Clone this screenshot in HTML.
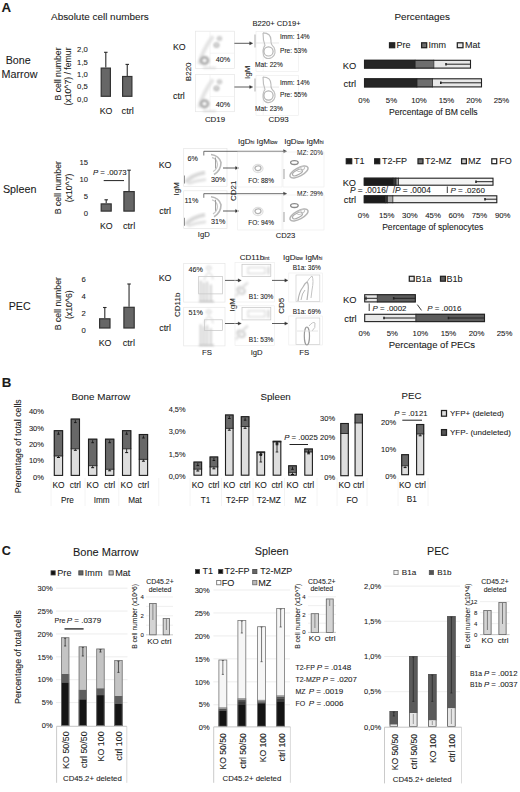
<!DOCTYPE html>
<html><head><meta charset="utf-8"><title>Figure</title>
<style>
html,body{margin:0;padding:0;background:#fff;}
body{width:520px;height:792px;overflow:hidden;}
svg{display:block;font-family:"Liberation Sans",sans-serif;}
text{fill:#1a1a1a;stroke:#1a1a1a;stroke-width:0.08px;}
</style></head>
<body>
<svg width="520" height="792" viewBox="0 0 520 792">
<defs><filter id="bl6" x="-20%" y="-20%" width="140%" height="140%"><feGaussianBlur stdDeviation="0.6"/></filter><filter id="bl7" x="-20%" y="-20%" width="140%" height="140%"><feGaussianBlur stdDeviation="0.7"/></filter><filter id="bl8" x="-20%" y="-20%" width="140%" height="140%"><feGaussianBlur stdDeviation="0.8"/></filter><filter id="bl9" x="-20%" y="-20%" width="140%" height="140%"><feGaussianBlur stdDeviation="0.9"/></filter><filter id="bl10" x="-20%" y="-20%" width="140%" height="140%"><feGaussianBlur stdDeviation="1.0"/></filter></defs>
<rect width="520" height="792" fill="#fff"/>
<text x="1.6" y="12.4" font-size="13.3" font-weight="bold" stroke="#1a1a1a" stroke-width="0.5">A</text>
<text x="51" y="19.6" font-size="9.95">Absolute cell numbers</text>
<text x="5.7" y="64.3" font-size="10.7">Bone</text>
<text x="1.6" y="77.7" font-size="10.75">Marrow</text>
<text x="19.7" y="193" font-size="10.75" text-anchor="middle">Spleen</text>
<text x="19.7" y="310.4" font-size="10.65" text-anchor="middle">PEC</text>
<text x="87.8" y="52.199999999999996" font-size="7.7" text-anchor="end">2,0</text>
<text x="87.8" y="64.55" font-size="7.7" text-anchor="end">1,5</text>
<text x="87.8" y="76.89999999999999" font-size="7.7" text-anchor="end">1,0</text>
<text x="87.8" y="89.24999999999999" font-size="7.7" text-anchor="end">0,5</text>
<text x="87.8" y="101.6" font-size="7.7" text-anchor="end">0,0</text>
<text transform="translate(61.3,74) rotate(-90)" font-size="8.7" text-anchor="middle">B cell number</text>
<text transform="translate(71.2,76.5) rotate(-90)" font-size="8.7" text-anchor="middle">(x10^7) / femur</text>
<line x1="105.80" y1="52.30" x2="105.80" y2="67.50" stroke="#2a2a2a" stroke-width="1.1"/>
<line x1="104.05" y1="52.30" x2="107.55" y2="52.30" stroke="#2a2a2a" stroke-width="1.1"/>
<rect x="101.20" y="68.10" width="9.20" height="28.20" fill="#666" stroke="#333" stroke-width="1.2"/>
<line x1="127.25" y1="64.40" x2="127.25" y2="75.90" stroke="#2a2a2a" stroke-width="1.1"/>
<line x1="125.50" y1="64.40" x2="129.00" y2="64.40" stroke="#2a2a2a" stroke-width="1.1"/>
<rect x="122.60" y="76.50" width="9.30" height="19.80" fill="#666" stroke="#333" stroke-width="1.2"/>
<text x="106.1" y="114.2" font-size="8.8" text-anchor="middle">KO</text>
<text x="127.7" y="114.2" font-size="9.3" text-anchor="middle">ctrl</text>
<text x="173" y="49.6" font-size="8.8">KO</text>
<text x="173" y="98.7" font-size="8.9">ctrl</text>
<rect x="195.50" y="31.20" width="38.90" height="37.20" fill="none" stroke="#e6e6e6" stroke-width="0.7"/>
<line x1="210.00" y1="31.20" x2="210.00" y2="68.40" stroke="#efefef" stroke-width="0.6"/>
<line x1="210.00" y1="53.20" x2="234.40" y2="53.20" stroke="#efefef" stroke-width="0.6"/>
<g filter="url(#bl10)">
<path d="M199,64.2 Q203,49.2 213,36.2" stroke="#e4e4e4" stroke-width="4" fill="none"/>
<ellipse cx="204.5" cy="60.5" rx="3.6" ry="3.3" stroke="#a9a9a9" stroke-width="2.6" fill="none"/>
<ellipse cx="216.5" cy="45.0" rx="2.1" ry="1.9" stroke="#a2a2a2" stroke-width="1.4" fill="none"/>
<ellipse cx="219.5" cy="38.5" rx="1.9" ry="1.7" stroke="#b0b0b0" stroke-width="1.3" fill="none"/>
<line x1="203.00" y1="67.80" x2="216.00" y2="67.80" stroke="#cfcfcf" stroke-width="1.2"/>
</g>
<rect x="195.50" y="74.50" width="38.90" height="37.20" fill="none" stroke="#e6e6e6" stroke-width="0.7"/>
<line x1="210.00" y1="74.50" x2="210.00" y2="111.70" stroke="#efefef" stroke-width="0.6"/>
<line x1="210.00" y1="96.50" x2="234.40" y2="96.50" stroke="#efefef" stroke-width="0.6"/>
<g filter="url(#bl10)">
<path d="M199,107.5 Q203,92.5 213,79.5" stroke="#e4e4e4" stroke-width="4" fill="none"/>
<ellipse cx="204.5" cy="103.8" rx="3.6" ry="3.3" stroke="#a9a9a9" stroke-width="2.6" fill="none"/>
<ellipse cx="216.5" cy="88.3" rx="2.1" ry="1.9" stroke="#a2a2a2" stroke-width="1.4" fill="none"/>
<ellipse cx="219.5" cy="81.8" rx="1.9" ry="1.7" stroke="#b0b0b0" stroke-width="1.3" fill="none"/>
<line x1="203.00" y1="111.10" x2="216.00" y2="111.10" stroke="#cfcfcf" stroke-width="1.2"/>
</g>
<text x="215.7" y="62.4" font-size="7.2">40%</text>
<text x="215.7" y="106.5" font-size="7.2">40%</text>
<text transform="translate(190.5,71.8) rotate(-90)" font-size="8" text-anchor="middle">B220</text>
<text x="215" y="122.3" font-size="7.9" text-anchor="middle">CD19</text>
<line x1="234.40" y1="43.30" x2="250.30" y2="43.30" stroke="#333" stroke-width="0.8"/>
<path d="M249.60000000000002,41.699999999999996 L252.8,43.3 L249.60000000000002,44.9 Z" stroke="#333" stroke-width="0.3" fill="#333"/>
<line x1="234.40" y1="87.00" x2="250.30" y2="87.00" stroke="#333" stroke-width="0.8"/>
<path d="M249.60000000000002,85.4 L252.8,87 L249.60000000000002,88.6 Z" stroke="#333" stroke-width="0.3" fill="#333"/>
<text transform="translate(250,72.3) rotate(-90)" font-size="8" text-anchor="middle">IgM</text>
<text x="252.5" y="26.2" font-size="7.6">B220+ CD19+</text>
<rect x="256.00" y="31.40" width="42.50" height="40.00" fill="none" stroke="#ececec" stroke-width="0.6"/>
<line x1="256.00" y1="43.00" x2="279.00" y2="43.00" stroke="#dedede" stroke-width="0.7"/>
<line x1="263.20" y1="31.40" x2="263.20" y2="71.40" stroke="#f0f0f0" stroke-width="0.6"/>
<g filter="url(#bl7)">
<line x1="255.00" y1="34.40" x2="255.00" y2="47.40" stroke="#cacaca" stroke-width="1.5"/>
<path d="M263,32.9 Q271,32.9 271,40.4 Q270.5,44.4 274,47.4 Q277,53.4 272,57.4 Q266,60.4 263.5,55.4 Q262,49.4 265,45.4 Q263,40.4 263,32.9" stroke="#bdbdbd" stroke-width="1.1" fill="none"/>
<ellipse cx="268.5" cy="51.4" rx="4.6" ry="4.6" stroke="#b2b2b2" stroke-width="1.2" fill="none"/>
</g>
<rect x="256.00" y="75.50" width="42.50" height="40.00" fill="none" stroke="#ececec" stroke-width="0.6"/>
<line x1="256.00" y1="87.10" x2="279.00" y2="87.10" stroke="#dedede" stroke-width="0.7"/>
<line x1="263.20" y1="75.50" x2="263.20" y2="115.50" stroke="#f0f0f0" stroke-width="0.6"/>
<g filter="url(#bl7)">
<line x1="255.00" y1="78.50" x2="255.00" y2="91.50" stroke="#cacaca" stroke-width="1.5"/>
<path d="M263,77.0 Q271,77.0 271,84.5 Q270.5,88.5 274,91.5 Q277,97.5 272,101.5 Q266,104.5 263.5,99.5 Q262,93.5 265,89.5 Q263,84.5 263,77.0" stroke="#bdbdbd" stroke-width="1.1" fill="none"/>
<ellipse cx="268.5" cy="95.5" rx="4.6" ry="4.6" stroke="#b2b2b2" stroke-width="1.2" fill="none"/>
</g>
<text x="280" y="39.2" font-size="6.6">Imm: 14%</text>
<text x="280" y="85" font-size="6.6">Imm: 14%</text>
<text x="280" y="53" font-size="6.6">Pre: 53%</text>
<text x="280" y="97.2" font-size="6.6">Pre: 55%</text>
<text x="255" y="67.2" font-size="6.6">Mat: 22%</text>
<text x="255" y="111" font-size="6.6">Mat: 23%</text>
<text x="278.6" y="122.3" font-size="7.9" text-anchor="middle">CD93</text>
<text x="394.4" y="20" font-size="9.9">Percentages</text>
<rect x="389.50" y="42.80" width="5.20" height="4.90" fill="#262626" stroke="#222" stroke-width="1.25"/>
<text x="396.5" y="48.3" font-size="9">Pre</text>
<rect x="421.60" y="42.80" width="5.10" height="4.90" fill="#6e6e6e" stroke="#222" stroke-width="1.25"/>
<text x="428.5" y="48.3" font-size="9">Imm</text>
<rect x="457.30" y="42.80" width="5.70" height="4.90" fill="#e8e8e8" stroke="#222" stroke-width="1.25"/>
<text x="465" y="48.3" font-size="9">Mat</text>
<text x="342.7" y="68.6" font-size="9.3">KO</text>
<text x="343.5" y="87.2" font-size="9.5">ctrl</text>
<rect x="364.00" y="59.80" width="51.30" height="8.80" fill="#262626"/>
<rect x="415.30" y="59.80" width="18.50" height="8.80" fill="#6e6e6e"/>
<rect x="433.80" y="59.80" width="37.20" height="8.80" fill="#e8e8e8"/>
<rect x="364.50" y="60.30" width="106.00" height="7.80" fill="none" stroke="#222" stroke-width="1.1"/>
<line x1="415.30" y1="59.80" x2="415.30" y2="68.60" stroke="#222" stroke-width="0.8"/>
<line x1="433.80" y1="59.80" x2="433.80" y2="68.60" stroke="#222" stroke-width="0.8"/>
<line x1="446.00" y1="64.20" x2="470.50" y2="64.20" stroke="#222" stroke-width="1"/>
<line x1="446.00" y1="62.95" x2="446.00" y2="65.45" stroke="#222" stroke-width="1.6"/>
<rect x="364.00" y="78.30" width="53.00" height="9.10" fill="#262626"/>
<rect x="417.00" y="78.30" width="15.50" height="9.10" fill="#6e6e6e"/>
<rect x="432.50" y="78.30" width="49.50" height="9.10" fill="#e8e8e8"/>
<rect x="364.50" y="78.80" width="117.00" height="8.10" fill="none" stroke="#222" stroke-width="1.1"/>
<line x1="417.00" y1="78.30" x2="417.00" y2="87.40" stroke="#222" stroke-width="0.8"/>
<line x1="432.50" y1="78.30" x2="432.50" y2="87.40" stroke="#222" stroke-width="0.8"/>
<line x1="440.80" y1="82.80" x2="481.50" y2="82.80" stroke="#222" stroke-width="1"/>
<line x1="440.80" y1="81.55" x2="440.80" y2="84.05" stroke="#222" stroke-width="1.6"/>
<text x="364.0" y="102.8" font-size="7.8" text-anchor="middle">0%</text>
<text x="391.5" y="102.8" font-size="7.8" text-anchor="middle">5%</text>
<text x="419.0" y="102.8" font-size="7.8" text-anchor="middle">10%</text>
<text x="446.5" y="102.8" font-size="7.8" text-anchor="middle">15%</text>
<text x="474.0" y="102.8" font-size="7.8" text-anchor="middle">20%</text>
<text x="501.5" y="102.8" font-size="7.8" text-anchor="middle">25%</text>
<text x="433.3" y="115.4" font-size="8.65" text-anchor="middle">Percentage of BM cells</text>
<text x="88" y="164.70000000000002" font-size="7.7" text-anchor="end">15</text>
<text x="88" y="181.75000000000003" font-size="7.7" text-anchor="end">10</text>
<text x="88" y="198.8" font-size="7.7" text-anchor="end">5</text>
<text x="88" y="215.85000000000002" font-size="7.7" text-anchor="end">0</text>
<text transform="translate(60.5,187.7) rotate(-90)" font-size="8.7" text-anchor="middle">B cell number</text>
<text transform="translate(71.6,188) rotate(-90)" font-size="8.7" text-anchor="middle">(x10^7)</text>
<line x1="106.20" y1="199.80" x2="106.20" y2="203.30" stroke="#2a2a2a" stroke-width="1.1"/>
<line x1="104.45" y1="199.80" x2="107.95" y2="199.80" stroke="#2a2a2a" stroke-width="1.1"/>
<rect x="101.20" y="203.90" width="10.00" height="7.20" fill="#666" stroke="#333" stroke-width="1.2"/>
<line x1="129.05" y1="170.20" x2="129.05" y2="191.00" stroke="#2a2a2a" stroke-width="1.1"/>
<line x1="127.30" y1="170.20" x2="130.80" y2="170.20" stroke="#2a2a2a" stroke-width="1.1"/>
<rect x="123.90" y="191.60" width="10.30" height="19.50" fill="#666" stroke="#333" stroke-width="1.2"/>
<text x="93" y="174.8" font-size="7.8"><tspan font-style="italic">P</tspan> = .0073</text>
<line x1="103.70" y1="180.60" x2="124.00" y2="180.60" stroke="#222" stroke-width="1"/>
<text x="106.3" y="229.4" font-size="8.8" text-anchor="middle">KO</text>
<text x="129.1" y="229.4" font-size="9.2" text-anchor="middle">ctrl</text>
<text x="158.7" y="168" font-size="8.9">KO</text>
<text x="159.2" y="213.8" font-size="8.9">ctrl</text>
<rect x="183.70" y="148.50" width="43.30" height="37.80" fill="none" stroke="#e6e6e6" stroke-width="0.7"/>
<line x1="203.80" y1="155.50" x2="203.80" y2="151.30" stroke="#555" stroke-width="0.8"/>
<g filter="url(#bl10)">
<path d="M186,182.5 Q190,175.5 205,172.5" stroke="#d9d9d9" stroke-width="4" fill="none"/>
<path d="M188,183.5 Q196,180.5 206,179.5" stroke="#e2e2e2" stroke-width="3" fill="none"/>
</g>
<g filter="url(#bl6)">
<path d="M211,154.5 Q219,155.5 221,162.5 Q221,170.5 214,174.5" stroke="#b8b8b8" stroke-width="1.6" fill="none"/>
<path d="M212,157.5 Q217,158.5 217.5,164.5 Q217,169.5 213,171.5" stroke="#c8c8c8" stroke-width="1.3" fill="none"/>
<line x1="215.50" y1="157.50" x2="215.50" y2="168.50" stroke="#a0a0a0" stroke-width="1.0"/>
</g>
<line x1="184.50" y1="175.50" x2="184.50" y2="183.50" stroke="#777" stroke-width="0.8"/>
<rect x="183.70" y="190.80" width="43.30" height="37.80" fill="none" stroke="#e6e6e6" stroke-width="0.7"/>
<line x1="203.80" y1="197.80" x2="203.80" y2="193.60" stroke="#555" stroke-width="0.8"/>
<g filter="url(#bl10)">
<path d="M186,224.8 Q190,217.8 205,214.8" stroke="#d9d9d9" stroke-width="4" fill="none"/>
<path d="M188,225.8 Q196,222.8 206,221.8" stroke="#e2e2e2" stroke-width="3" fill="none"/>
</g>
<g filter="url(#bl6)">
<path d="M211,196.8 Q219,197.8 221,204.8 Q221,212.8 214,216.8" stroke="#b8b8b8" stroke-width="1.6" fill="none"/>
<path d="M212,199.8 Q217,200.8 217.5,206.8 Q217,211.8 213,213.8" stroke="#c8c8c8" stroke-width="1.3" fill="none"/>
<line x1="215.50" y1="199.80" x2="215.50" y2="210.80" stroke="#a0a0a0" stroke-width="1.0"/>
</g>
<line x1="184.50" y1="217.80" x2="184.50" y2="225.80" stroke="#777" stroke-width="0.8"/>
<line x1="203.80" y1="151.30" x2="284.00" y2="151.30" stroke="#444" stroke-width="0.8"/>
<path d="M283.5,149.6 L286.8,151.3 L283.5,153 Z" stroke="#444" stroke-width="0.3" fill="#444"/>
<line x1="203.80" y1="193.70" x2="284.00" y2="193.70" stroke="#444" stroke-width="0.8"/>
<path d="M283.5,192 L286.8,193.7 L283.5,195.4 Z" stroke="#444" stroke-width="0.3" fill="#444"/>
<text x="187.5" y="161" font-size="7.2">6%</text>
<text x="184.6" y="203.3" font-size="7.2">11%</text>
<text x="211" y="182" font-size="7.2">30%</text>
<text x="211" y="224.4" font-size="7.2">31%</text>
<line x1="223.00" y1="168.00" x2="236.20" y2="168.00" stroke="#333" stroke-width="0.8"/>
<path d="M235.5,166.4 L238.7,168 L235.5,169.6 Z" stroke="#333" stroke-width="0.3" fill="#333"/>
<line x1="223.00" y1="211.00" x2="236.20" y2="211.00" stroke="#333" stroke-width="0.8"/>
<path d="M235.5,209.4 L238.7,211 L235.5,212.6 Z" stroke="#333" stroke-width="0.3" fill="#333"/>
<text transform="translate(179,188.8) rotate(-90)" font-size="8" text-anchor="middle">IgM</text>
<text transform="translate(235.5,190.8) rotate(-90)" font-size="8" text-anchor="middle">CD21</text>
<text x="203.8" y="237" font-size="7.7" text-anchor="middle">IgD</text>
<text x="238" y="143.8" font-size="8"><tspan>IgD</tspan><tspan font-size="5.0">hi</tspan><tspan> IgM</tspan><tspan font-size="5.0">low</tspan></text>
<text x="284.2" y="143.8" font-size="8"><tspan>IgD</tspan><tspan font-size="5.0">low</tspan><tspan> IgM</tspan><tspan font-size="5.0">hi</tspan></text>
<text x="297" y="155" font-size="6.5">MZ: 20%</text>
<text x="297" y="196.3" font-size="6.5">MZ: 29%</text>
<text x="248.3" y="182.9" font-size="6.5">FO: 88%</text>
<text x="248.3" y="224.6" font-size="6.5">FO: 94%</text>
<rect x="237.70" y="152.00" width="44.30" height="35.00" fill="none" stroke="#ececec" stroke-width="0.6"/>
<g filter="url(#bl7)">
<ellipse cx="258" cy="168.2" rx="3.0" ry="2.4" stroke="#b4b4b4" stroke-width="1.3" fill="none" transform="rotate(-10 258 168.2)"/>
<ellipse cx="258" cy="168.5" rx="5.0" ry="4.0" stroke="#e0e0e0" stroke-width="1.3" fill="none"/>
</g>
<rect x="237.70" y="195.00" width="44.30" height="35.00" fill="none" stroke="#ececec" stroke-width="0.6"/>
<g filter="url(#bl7)">
<ellipse cx="258" cy="211.2" rx="3.0" ry="2.4" stroke="#b4b4b4" stroke-width="1.3" fill="none" transform="rotate(-10 258 211.2)"/>
<ellipse cx="258" cy="211.5" rx="5.0" ry="4.0" stroke="#e0e0e0" stroke-width="1.3" fill="none"/>
</g>
<rect x="283.00" y="152.00" width="41.00" height="35.00" fill="none" stroke="#ececec" stroke-width="0.6"/>
<line x1="284.00" y1="169.00" x2="284.00" y2="179.00" stroke="#999" stroke-width="0.9"/>
<g filter="url(#bl6)">
<ellipse cx="294.4" cy="162.6" rx="3.8" ry="1.9" stroke="#8a8a8a" stroke-width="1.3" fill="none"/>
<ellipse cx="299" cy="172" rx="10" ry="4.2" stroke="#b4b4b4" stroke-width="1.4" fill="none" transform="rotate(-28 299 172)"/>
<ellipse cx="297.5" cy="172.5" rx="5.5" ry="2.3" stroke="#aaaaaa" stroke-width="1.2" fill="none" transform="rotate(-28 297.5 172.5)"/>
<ellipse cx="301" cy="169" rx="4" ry="1.8" stroke="#c4c4c4" stroke-width="1.0" fill="none" transform="rotate(-28 301 169)"/>
</g>
<rect x="283.00" y="195.00" width="41.00" height="35.00" fill="none" stroke="#ececec" stroke-width="0.6"/>
<line x1="284.00" y1="212.00" x2="284.00" y2="222.00" stroke="#999" stroke-width="0.9"/>
<g filter="url(#bl6)">
<ellipse cx="294.4" cy="205.6" rx="3.8" ry="1.9" stroke="#8a8a8a" stroke-width="1.3" fill="none"/>
<ellipse cx="299" cy="215" rx="10" ry="4.2" stroke="#b4b4b4" stroke-width="1.4" fill="none" transform="rotate(-28 299 215)"/>
<ellipse cx="297.5" cy="215.5" rx="5.5" ry="2.3" stroke="#aaaaaa" stroke-width="1.2" fill="none" transform="rotate(-28 297.5 215.5)"/>
<ellipse cx="301" cy="212" rx="4" ry="1.8" stroke="#c4c4c4" stroke-width="1.0" fill="none" transform="rotate(-28 301 212)"/>
</g>
<text x="285.4" y="237.7" font-size="7.6" text-anchor="middle">CD23</text>
<rect x="346.30" y="158.80" width="5.40" height="4.90" fill="#1a1a1a" stroke="#222" stroke-width="1.25"/>
<text x="354" y="164.2" font-size="9">T1</text>
<rect x="374.70" y="158.80" width="5.00" height="4.90" fill="#1a1a1a" stroke="#222" stroke-width="1.25"/>
<text x="382" y="164.2" font-size="9">T2-FP</text>
<rect x="418.00" y="158.80" width="5.00" height="4.90" fill="#6e6e6e" stroke="#222" stroke-width="1.25"/>
<text x="425" y="164.2" font-size="9">T2-MZ</text>
<rect x="461.60" y="158.80" width="4.80" height="4.90" fill="#c8c8c8" stroke="#222" stroke-width="1.25"/>
<text x="468" y="164.2" font-size="9">MZ</text>
<rect x="491.80" y="158.80" width="4.90" height="4.90" fill="#ffffff" stroke="#222" stroke-width="1.25"/>
<text x="499.3" y="164.2" font-size="9">FO</text>
<text x="342.7" y="185.8" font-size="9.2">KO</text>
<text x="343.7" y="202.7" font-size="9.4">ctrl</text>
<rect x="363.80" y="177.70" width="29.20" height="8.00" fill="#1c1c1c"/>
<rect x="393.00" y="177.70" width="3.00" height="8.00" fill="#3a3a3a"/>
<rect x="396.00" y="177.70" width="2.50" height="8.00" fill="#999"/>
<rect x="398.50" y="177.70" width="95.00" height="8.00" fill="#f4f4f4"/>
<rect x="364.30" y="178.20" width="128.70" height="7.00" fill="none" stroke="#222" stroke-width="1.1"/>
<line x1="393.00" y1="177.70" x2="393.00" y2="185.70" stroke="#222" stroke-width="0.8"/>
<line x1="396.00" y1="177.70" x2="396.00" y2="185.70" stroke="#222" stroke-width="0.8"/>
<line x1="398.50" y1="177.70" x2="398.50" y2="185.70" stroke="#222" stroke-width="0.8"/>
<line x1="476.00" y1="181.70" x2="493.00" y2="181.70" stroke="#222" stroke-width="1"/>
<line x1="476.00" y1="180.45" x2="476.00" y2="182.95" stroke="#222" stroke-width="1.6"/>
<rect x="363.80" y="195.30" width="21.60" height="7.90" fill="#1c1c1c"/>
<rect x="385.40" y="195.30" width="2.10" height="7.90" fill="#333"/>
<rect x="387.50" y="195.30" width="5.30" height="7.90" fill="#aaa"/>
<rect x="392.80" y="195.30" width="104.50" height="7.90" fill="#f0f0f0"/>
<rect x="364.30" y="195.80" width="132.50" height="6.90" fill="none" stroke="#222" stroke-width="1.1"/>
<line x1="385.40" y1="195.30" x2="385.40" y2="203.20" stroke="#222" stroke-width="0.8"/>
<line x1="387.50" y1="195.30" x2="387.50" y2="203.20" stroke="#222" stroke-width="0.8"/>
<line x1="392.80" y1="195.30" x2="392.80" y2="203.20" stroke="#222" stroke-width="0.8"/>
<line x1="485.00" y1="199.20" x2="497.00" y2="199.20" stroke="#222" stroke-width="1"/>
<line x1="485.00" y1="197.95" x2="485.00" y2="200.45" stroke="#222" stroke-width="1.6"/>
<text x="350" y="192.7" font-size="8.3" xml:space="preserve"><tspan font-style="italic">P</tspan> = .0016/  /<tspan font-style="italic">P</tspan> = .0004</text>
<line x1="447.30" y1="186.50" x2="447.30" y2="193.00" stroke="#222" stroke-width="0.9"/>
<text x="450.4" y="192.7" font-size="8.0"><tspan font-style="italic">P</tspan> = .0260</text>
<text x="363.5" y="218" font-size="7.8" text-anchor="middle">0%</text>
<text x="386.7" y="218" font-size="7.8" text-anchor="middle">15%</text>
<text x="409.9" y="218" font-size="7.8" text-anchor="middle">30%</text>
<text x="433.1" y="218" font-size="7.8" text-anchor="middle">45%</text>
<text x="456.3" y="218" font-size="7.8" text-anchor="middle">60%</text>
<text x="479.5" y="218" font-size="7.8" text-anchor="middle">75%</text>
<text x="502.7" y="218" font-size="7.8" text-anchor="middle">90%</text>
<text x="432.7" y="230" font-size="8.58" text-anchor="middle">Percentage of splenocytes</text>
<text x="85.8" y="281.6" font-size="7.7" text-anchor="end">6</text>
<text x="85.8" y="298.75" font-size="7.7" text-anchor="end">4</text>
<text x="85.8" y="315.90000000000003" font-size="7.7" text-anchor="end">2</text>
<text x="85.8" y="333.05" font-size="7.7" text-anchor="end">0</text>
<text transform="translate(60.5,303.7) rotate(-90)" font-size="8.7" text-anchor="middle">B cell number</text>
<text transform="translate(71.6,304.7) rotate(-90)" font-size="8.7" text-anchor="middle">(x10^6)</text>
<line x1="104.80" y1="307.50" x2="104.80" y2="318.20" stroke="#2a2a2a" stroke-width="1.1"/>
<line x1="103.05" y1="307.50" x2="106.55" y2="307.50" stroke="#2a2a2a" stroke-width="1.1"/>
<rect x="99.60" y="318.80" width="10.40" height="9.20" fill="#666" stroke="#333" stroke-width="1.2"/>
<line x1="129.05" y1="284.00" x2="129.05" y2="306.70" stroke="#2a2a2a" stroke-width="1.1"/>
<line x1="127.30" y1="284.00" x2="130.80" y2="284.00" stroke="#2a2a2a" stroke-width="1.1"/>
<rect x="123.90" y="307.30" width="10.30" height="20.70" fill="#666" stroke="#333" stroke-width="1.2"/>
<text x="105" y="346.2" font-size="8.8" text-anchor="middle">KO</text>
<text x="128.8" y="346.2" font-size="9.2" text-anchor="middle">ctrl</text>
<text x="158.7" y="281.2" font-size="8.9">KO</text>
<text x="159.2" y="330.8" font-size="8.9">ctrl</text>
<rect x="183.70" y="263.50" width="41.30" height="38.60" fill="none" stroke="#e6e6e6" stroke-width="0.7"/>
<rect x="198.70" y="276.60" width="23.90" height="17.30" fill="none" stroke="#c4c4c4" stroke-width="0.7"/>
<g filter="url(#bl8)">
<line x1="200.60" y1="280.50" x2="200.60" y2="301.00" stroke="#c6c6c6" stroke-width="1.6"/>
<line x1="203.80" y1="282.50" x2="203.80" y2="301.00" stroke="#c6c6c6" stroke-width="1.6"/>
<line x1="207.20" y1="281.50" x2="207.20" y2="301.00" stroke="#c6c6c6" stroke-width="1.6"/>
<line x1="210.80" y1="284.50" x2="210.80" y2="301.00" stroke="#c6c6c6" stroke-width="1.6"/>
<ellipse cx="208.8" cy="268.1" rx="2.4" ry="1.9" stroke="#c8c8c8" stroke-width="1" fill="none"/>
<path d="M204,280.5 Q206,273.5 209,272.5 Q212,273.5 213,279.5" stroke="#d4d4d4" stroke-width="1.1" fill="none"/>
<line x1="199.00" y1="301.50" x2="214.00" y2="301.50" stroke="#b0b0b0" stroke-width="1.2"/>
</g>
<rect x="183.70" y="307.30" width="41.30" height="38.60" fill="none" stroke="#e6e6e6" stroke-width="0.7"/>
<rect x="204.50" y="319.80" width="18.10" height="10.70" fill="none" stroke="#c4c4c4" stroke-width="0.7"/>
<g filter="url(#bl8)">
<line x1="200.60" y1="324.30" x2="200.60" y2="344.80" stroke="#c6c6c6" stroke-width="1.6"/>
<line x1="203.80" y1="326.30" x2="203.80" y2="344.80" stroke="#c6c6c6" stroke-width="1.6"/>
<line x1="207.20" y1="325.30" x2="207.20" y2="344.80" stroke="#c6c6c6" stroke-width="1.6"/>
<line x1="210.80" y1="328.30" x2="210.80" y2="344.80" stroke="#c6c6c6" stroke-width="1.6"/>
<ellipse cx="208.8" cy="311.90000000000003" rx="2.4" ry="1.9" stroke="#c8c8c8" stroke-width="1" fill="none"/>
<path d="M204,324.3 Q206,317.3 209,316.3 Q212,317.3 213,323.3" stroke="#d4d4d4" stroke-width="1.1" fill="none"/>
<line x1="199.00" y1="345.30" x2="214.00" y2="345.30" stroke="#b0b0b0" stroke-width="1.2"/>
</g>
<text x="188.5" y="272" font-size="7.2">46%</text>
<text x="188.5" y="315.4" font-size="7.2">51%</text>
<text transform="translate(179.5,304.8) rotate(-90)" font-size="8" text-anchor="middle">CD11b</text>
<text x="207" y="354.8" font-size="7.8" text-anchor="middle">FS</text>
<line x1="225.00" y1="280.40" x2="238.80" y2="280.40" stroke="#333" stroke-width="0.8"/>
<path d="M238.10000000000002,278.79999999999995 L241.3,280.4 L238.10000000000002,282.0 Z" stroke="#333" stroke-width="0.3" fill="#333"/>
<line x1="225.00" y1="323.50" x2="238.80" y2="323.50" stroke="#333" stroke-width="0.8"/>
<path d="M238.10000000000002,321.9 L241.3,323.5 L238.10000000000002,325.1 Z" stroke="#333" stroke-width="0.3" fill="#333"/>
<text transform="translate(234.7,304.8) rotate(-90)" font-size="8" text-anchor="middle">IgM</text>
<rect x="235.00" y="262.50" width="39.40" height="39.50" fill="none" stroke="#ececec" stroke-width="0.6"/>
<rect x="242.00" y="264.30" width="28.80" height="12.30" fill="none" stroke="#c4c4c4" stroke-width="0.7"/>
<g filter="url(#bl9)">
<ellipse cx="241" cy="290.5" rx="4" ry="3" stroke="#cdcdcd" stroke-width="2" fill="none" transform="rotate(30 241 290.5)"/>
<path d="M236,296.5 Q240,288.5 248,282.5" stroke="#e0e0e0" stroke-width="2.5" fill="none"/>
<line x1="268.50" y1="266.50" x2="268.50" y2="274.50" stroke="#c0c0c0" stroke-width="1.4"/>
<rect x="248.00" y="267.50" width="17.00" height="6.00" fill="none" stroke="#d0d0d0" stroke-width="1"/>
</g>
<rect x="235.00" y="305.80" width="39.40" height="39.50" fill="none" stroke="#ececec" stroke-width="0.6"/>
<rect x="242.00" y="307.60" width="28.80" height="12.30" fill="none" stroke="#c4c4c4" stroke-width="0.7"/>
<g filter="url(#bl9)">
<ellipse cx="241" cy="333.8" rx="4" ry="3" stroke="#cdcdcd" stroke-width="2" fill="none" transform="rotate(30 241 333.8)"/>
<path d="M236,339.8 Q240,331.8 248,325.8" stroke="#e0e0e0" stroke-width="2.5" fill="none"/>
<line x1="268.50" y1="309.80" x2="268.50" y2="317.80" stroke="#c0c0c0" stroke-width="1.4"/>
<rect x="248.00" y="310.80" width="17.00" height="6.00" fill="none" stroke="#d0d0d0" stroke-width="1"/>
</g>
<text x="239.8" y="259.6" font-size="8"><tspan>CD11b</tspan><tspan font-size="5.0">int</tspan></text>
<text x="248.8" y="298.5" font-size="6.5">B1: 30%</text>
<text x="248.8" y="342" font-size="6.5">B1: 53%</text>
<line x1="272.00" y1="280.40" x2="285.50" y2="280.40" stroke="#333" stroke-width="0.8"/>
<path d="M284.8,278.79999999999995 L288,280.4 L284.8,282.0 Z" stroke="#333" stroke-width="0.3" fill="#333"/>
<line x1="272.00" y1="323.50" x2="285.50" y2="323.50" stroke="#333" stroke-width="0.8"/>
<path d="M284.8,321.9 L288,323.5 L284.8,325.1 Z" stroke="#333" stroke-width="0.3" fill="#333"/>
<rect x="288.80" y="273.00" width="33.70" height="29.00" fill="none" stroke="#ececec" stroke-width="0.6"/>
<rect x="296.00" y="275.00" width="23.80" height="26.50" fill="none" stroke="#d0d0d0" stroke-width="0.7"/>
<rect x="288.80" y="316.00" width="33.70" height="29.00" fill="none" stroke="#ececec" stroke-width="0.6"/>
<rect x="296.00" y="318.00" width="23.80" height="26.50" fill="none" stroke="#d0d0d0" stroke-width="0.7"/>
<g filter="url(#bl6)">
<path d="M298,301 Q299,292 303,287 Q305,283 307,282 Q309,284 308,292 L307,300" stroke="#b4b4b4" stroke-width="1.2" fill="none"/>
<path d="M301,300 Q302,293 305,290" stroke="#b8b8b8" stroke-width="1" fill="none"/>
<path d="M307,282 Q310,277 312,276 Q314,280 312,290 L311,298" stroke="#c4c4c4" stroke-width="1" fill="none"/>
<ellipse cx="306.9" cy="336" rx="2.6" ry="9" stroke="#9a9a9a" stroke-width="1.2" fill="none"/>
<path d="M309,326 Q313,321 315,323 Q316,328 312,331" stroke="#c4c4c4" stroke-width="1" fill="none"/>
<line x1="297.00" y1="331.00" x2="318.00" y2="331.00" stroke="#e0e0e0" stroke-width="0.8"/>
</g>
<text x="283" y="259.6" font-size="8"><tspan>IgD</tspan><tspan font-size="5.0">low</tspan><tspan> IgM</tspan><tspan font-size="5.0">hi</tspan></text>
<text x="292.7" y="270.2" font-size="6.5">B1a: 36%</text>
<text x="292.7" y="314.4" font-size="6.5">B1a: 69%</text>
<text transform="translate(284,305.8) rotate(-90)" font-size="8" text-anchor="middle">CD5</text>
<text x="256.7" y="354.8" font-size="7.7" text-anchor="middle">IgD</text>
<text x="304.2" y="354.8" font-size="7.8" text-anchor="middle">FS</text>
<rect x="409.30" y="276.30" width="4.90" height="4.90" fill="#e8e8e8" stroke="#222" stroke-width="1.25"/>
<text x="415.5" y="281.5" font-size="9">B1a</text>
<rect x="440.50" y="276.30" width="4.90" height="4.90" fill="#5c5c5c" stroke="#222" stroke-width="1.25"/>
<text x="446.5" y="281.5" font-size="9">B1b</text>
<text x="343" y="302.7" font-size="9.3">KO</text>
<text x="344.2" y="322" font-size="9.4">ctrl</text>
<rect x="364.20" y="294.20" width="13.10" height="8.20" fill="#e8e8e8"/>
<rect x="377.30" y="294.20" width="38.50" height="8.20" fill="#5c5c5c"/>
<rect x="364.70" y="294.70" width="50.60" height="7.20" fill="none" stroke="#222" stroke-width="1.1"/>
<line x1="377.30" y1="294.20" x2="377.30" y2="302.40" stroke="#222" stroke-width="0.8"/>
<line x1="364.50" y1="298.30" x2="377.00" y2="298.30" stroke="#222" stroke-width="1"/>
<line x1="364.50" y1="298.30" x2="364.50" y2="298.30" stroke="#222" stroke-width="1.6"/>
<line x1="366.00" y1="296.50" x2="366.00" y2="300.30" stroke="#222" stroke-width="1.2"/>
<line x1="393.70" y1="298.30" x2="415.50" y2="298.30" stroke="#222" stroke-width="1"/>
<line x1="393.70" y1="297.05" x2="393.70" y2="299.55" stroke="#222" stroke-width="1.6"/>
<line x1="369.20" y1="303.50" x2="369.20" y2="311.00" stroke="#222" stroke-width="0.9"/>
<text x="372.5" y="311" font-size="7.9"><tspan font-style="italic">P</tspan> = .0002</text>
<line x1="417.30" y1="304.60" x2="421.50" y2="310.40" stroke="#222" stroke-width="0.9"/>
<text x="427.3" y="311" font-size="7.9"><tspan font-style="italic">P</tspan> = .0016</text>
<rect x="364.20" y="313.80" width="51.60" height="8.30" fill="#e8e8e8"/>
<rect x="415.80" y="313.80" width="69.20" height="8.30" fill="#5c5c5c"/>
<rect x="364.70" y="314.30" width="119.80" height="7.30" fill="none" stroke="#222" stroke-width="1.1"/>
<line x1="415.80" y1="313.80" x2="415.80" y2="322.10" stroke="#222" stroke-width="0.8"/>
<line x1="384.00" y1="318.00" x2="415.50" y2="318.00" stroke="#222" stroke-width="1"/>
<line x1="384.00" y1="316.75" x2="384.00" y2="319.25" stroke="#222" stroke-width="1.6"/>
<line x1="448.50" y1="318.00" x2="484.50" y2="318.00" stroke="#222" stroke-width="1"/>
<line x1="448.50" y1="316.75" x2="448.50" y2="319.25" stroke="#222" stroke-width="1.6"/>
<text x="364.2" y="336" font-size="7.8" text-anchor="middle">0%</text>
<text x="392.28" y="336" font-size="7.8" text-anchor="middle">5%</text>
<text x="420.36" y="336" font-size="7.8" text-anchor="middle">10%</text>
<text x="448.44" y="336" font-size="7.8" text-anchor="middle">15%</text>
<text x="476.52" y="336" font-size="7.8" text-anchor="middle">20%</text>
<text x="504.59999999999997" y="336" font-size="7.8" text-anchor="middle">25%</text>
<text x="431.9" y="347.5" font-size="9.55" text-anchor="middle">Percentage of PECs</text>
<text x="1.8" y="387.4" font-size="13.3" font-weight="bold" stroke="#1a1a1a" stroke-width="0.5">B</text>
<text transform="translate(21.3,446.2) rotate(-90)" font-size="8.8" text-anchor="middle">Percentage of total cells</text>
<text x="43.9" y="414.3" font-size="7.5" text-anchor="end">40%</text>
<text x="43.9" y="430.65000000000003" font-size="7.5" text-anchor="end">30%</text>
<text x="43.9" y="447.0" font-size="7.5" text-anchor="end">20%</text>
<text x="43.9" y="463.35" font-size="7.5" text-anchor="end">10%</text>
<text x="43.9" y="479.7" font-size="7.5" text-anchor="end">0%</text>
<text x="100.8" y="399.5" font-size="9.85" text-anchor="middle">Bone Marrow</text>
<rect x="53.80" y="430.20" width="9.30" height="25.80" fill="#686868"/>
<rect x="53.80" y="456.00" width="9.30" height="19.90" fill="#dedede"/>
<rect x="54.30" y="430.70" width="8.30" height="44.70" fill="none" stroke="#1e1e1e" stroke-width="1.1"/>
<line x1="53.80" y1="456.00" x2="63.10" y2="456.00" stroke="#1e1e1e" stroke-width="0.9"/>
<line x1="58.45" y1="431.70" x2="58.45" y2="434.20" stroke="#111" stroke-width="0.8"/>
<line x1="57.15" y1="434.20" x2="59.75" y2="434.20" stroke="#111" stroke-width="0.9"/>
<line x1="58.45" y1="456.00" x2="58.45" y2="457.50" stroke="#111" stroke-width="0.8"/>
<line x1="56.95" y1="457.50" x2="59.95" y2="457.50" stroke="#111" stroke-width="1.0"/>
<rect x="70.70" y="418.60" width="9.30" height="30.20" fill="#686868"/>
<rect x="70.70" y="448.80" width="9.30" height="27.10" fill="#dedede"/>
<rect x="71.20" y="419.10" width="8.30" height="56.30" fill="none" stroke="#1e1e1e" stroke-width="1.1"/>
<line x1="70.70" y1="448.80" x2="80.00" y2="448.80" stroke="#1e1e1e" stroke-width="0.9"/>
<line x1="75.35" y1="420.10" x2="75.35" y2="422.60" stroke="#111" stroke-width="0.8"/>
<line x1="74.05" y1="422.60" x2="76.65" y2="422.60" stroke="#111" stroke-width="0.9"/>
<line x1="75.35" y1="448.80" x2="75.35" y2="450.30" stroke="#111" stroke-width="0.8"/>
<line x1="73.85" y1="450.30" x2="76.85" y2="450.30" stroke="#111" stroke-width="1.0"/>
<rect x="88.00" y="438.70" width="9.30" height="27.00" fill="#686868"/>
<rect x="88.00" y="465.70" width="9.30" height="10.20" fill="#dedede"/>
<rect x="88.50" y="439.20" width="8.30" height="36.20" fill="none" stroke="#1e1e1e" stroke-width="1.1"/>
<line x1="88.00" y1="465.70" x2="97.30" y2="465.70" stroke="#1e1e1e" stroke-width="0.9"/>
<line x1="92.65" y1="440.20" x2="92.65" y2="442.70" stroke="#111" stroke-width="0.8"/>
<line x1="91.35" y1="442.70" x2="93.95" y2="442.70" stroke="#111" stroke-width="0.9"/>
<line x1="92.65" y1="465.70" x2="92.65" y2="467.70" stroke="#111" stroke-width="0.8"/>
<line x1="91.15" y1="467.70" x2="94.15" y2="467.70" stroke="#111" stroke-width="1.0"/>
<rect x="105.00" y="438.70" width="9.30" height="30.60" fill="#686868"/>
<rect x="105.00" y="469.30" width="9.30" height="6.60" fill="#dedede"/>
<rect x="105.50" y="439.20" width="8.30" height="36.20" fill="none" stroke="#1e1e1e" stroke-width="1.1"/>
<line x1="105.00" y1="469.30" x2="114.30" y2="469.30" stroke="#1e1e1e" stroke-width="0.9"/>
<line x1="109.65" y1="440.20" x2="109.65" y2="442.70" stroke="#111" stroke-width="0.8"/>
<line x1="108.35" y1="442.70" x2="110.95" y2="442.70" stroke="#111" stroke-width="0.9"/>
<line x1="109.65" y1="469.30" x2="109.65" y2="470.80" stroke="#111" stroke-width="0.8"/>
<line x1="108.15" y1="470.80" x2="111.15" y2="470.80" stroke="#111" stroke-width="1.0"/>
<rect x="122.00" y="430.20" width="9.30" height="18.60" fill="#686868"/>
<rect x="122.00" y="448.80" width="9.30" height="27.10" fill="#dedede"/>
<rect x="122.50" y="430.70" width="8.30" height="44.70" fill="none" stroke="#1e1e1e" stroke-width="1.1"/>
<line x1="122.00" y1="448.80" x2="131.30" y2="448.80" stroke="#1e1e1e" stroke-width="0.9"/>
<line x1="126.65" y1="431.70" x2="126.65" y2="434.20" stroke="#111" stroke-width="0.8"/>
<line x1="125.35" y1="434.20" x2="127.95" y2="434.20" stroke="#111" stroke-width="0.9"/>
<line x1="126.65" y1="448.80" x2="126.65" y2="452.60" stroke="#111" stroke-width="0.8"/>
<line x1="125.15" y1="452.60" x2="128.15" y2="452.60" stroke="#111" stroke-width="1.0"/>
<rect x="138.80" y="434.00" width="9.30" height="25.40" fill="#686868"/>
<rect x="138.80" y="459.40" width="9.30" height="16.50" fill="#dedede"/>
<rect x="139.30" y="434.50" width="8.30" height="40.90" fill="none" stroke="#1e1e1e" stroke-width="1.1"/>
<line x1="138.80" y1="459.40" x2="148.10" y2="459.40" stroke="#1e1e1e" stroke-width="0.9"/>
<line x1="143.45" y1="435.50" x2="143.45" y2="438.00" stroke="#111" stroke-width="0.8"/>
<line x1="142.15" y1="438.00" x2="144.75" y2="438.00" stroke="#111" stroke-width="0.9"/>
<line x1="143.45" y1="459.40" x2="143.45" y2="461.20" stroke="#111" stroke-width="0.8"/>
<line x1="141.95" y1="461.20" x2="144.95" y2="461.20" stroke="#111" stroke-width="1.0"/>
<text x="58.449999999999996" y="487.9" font-size="8.4" text-anchor="middle">KO</text>
<text x="75.35000000000001" y="487.9" font-size="8.4" text-anchor="middle">ctrl</text>
<text x="92.65" y="487.9" font-size="8.4" text-anchor="middle">KO</text>
<text x="109.65" y="487.9" font-size="8.4" text-anchor="middle">ctrl</text>
<text x="126.65" y="487.9" font-size="8.4" text-anchor="middle">KO</text>
<text x="143.45000000000002" y="487.9" font-size="8.4" text-anchor="middle">ctrl</text>
<text x="67.4" y="502.6" font-size="8.2" text-anchor="middle">Pre</text>
<text x="101.6" y="502.6" font-size="8.2" text-anchor="middle">Imm</text>
<text x="135" y="502.6" font-size="8.2" text-anchor="middle">Mat</text>
<line x1="51.00" y1="478.00" x2="51.00" y2="506.00" stroke="#f1f1f1" stroke-width="0.8"/>
<line x1="85.00" y1="478.00" x2="85.00" y2="506.00" stroke="#f1f1f1" stroke-width="0.8"/>
<line x1="118.75" y1="478.00" x2="118.75" y2="506.00" stroke="#f1f1f1" stroke-width="0.8"/>
<line x1="158.75" y1="478.00" x2="158.75" y2="506.00" stroke="#f1f1f1" stroke-width="0.8"/>
<text x="185.5" y="411.9" font-size="7.4" text-anchor="end">4,5%</text>
<text x="185.5" y="434.43" font-size="7.4" text-anchor="end">3,0%</text>
<text x="185.5" y="456.96" font-size="7.4" text-anchor="end">1,5%</text>
<text x="185.5" y="479.48999999999995" font-size="7.4" text-anchor="end">0,0%</text>
<text x="260.4" y="399.5" font-size="9.75">Spleen</text>
<rect x="193.50" y="461.60" width="8.60" height="7.60" fill="#686868"/>
<rect x="193.50" y="469.20" width="8.60" height="6.50" fill="#dedede"/>
<rect x="194.00" y="462.10" width="7.60" height="13.10" fill="none" stroke="#1e1e1e" stroke-width="1.1"/>
<line x1="193.50" y1="469.20" x2="202.10" y2="469.20" stroke="#1e1e1e" stroke-width="0.9"/>
<line x1="197.80" y1="463.10" x2="197.80" y2="465.60" stroke="#111" stroke-width="0.8"/>
<line x1="196.50" y1="465.60" x2="199.10" y2="465.60" stroke="#111" stroke-width="0.9"/>
<line x1="197.80" y1="469.20" x2="197.80" y2="471.00" stroke="#111" stroke-width="0.8"/>
<line x1="196.30" y1="471.00" x2="199.30" y2="471.00" stroke="#111" stroke-width="1.0"/>
<rect x="209.60" y="456.50" width="8.60" height="10.50" fill="#686868"/>
<rect x="209.60" y="467.00" width="8.60" height="8.70" fill="#dedede"/>
<rect x="210.10" y="457.00" width="7.60" height="18.20" fill="none" stroke="#1e1e1e" stroke-width="1.1"/>
<line x1="209.60" y1="467.00" x2="218.20" y2="467.00" stroke="#1e1e1e" stroke-width="0.9"/>
<line x1="213.90" y1="458.00" x2="213.90" y2="460.50" stroke="#111" stroke-width="0.8"/>
<line x1="212.60" y1="460.50" x2="215.20" y2="460.50" stroke="#111" stroke-width="0.9"/>
<line x1="213.90" y1="467.00" x2="213.90" y2="468.80" stroke="#111" stroke-width="0.8"/>
<line x1="212.40" y1="468.80" x2="215.40" y2="468.80" stroke="#111" stroke-width="1.0"/>
<rect x="225.00" y="414.50" width="8.60" height="13.90" fill="#686868"/>
<rect x="225.00" y="428.40" width="8.60" height="47.30" fill="#dedede"/>
<rect x="225.50" y="415.00" width="7.60" height="60.20" fill="none" stroke="#1e1e1e" stroke-width="1.1"/>
<line x1="225.00" y1="428.40" x2="233.60" y2="428.40" stroke="#1e1e1e" stroke-width="0.9"/>
<line x1="229.30" y1="416.00" x2="229.30" y2="418.50" stroke="#111" stroke-width="0.8"/>
<line x1="228.00" y1="418.50" x2="230.60" y2="418.50" stroke="#111" stroke-width="0.9"/>
<line x1="229.30" y1="428.40" x2="229.30" y2="430.20" stroke="#111" stroke-width="0.8"/>
<line x1="227.80" y1="430.20" x2="230.80" y2="430.20" stroke="#111" stroke-width="1.0"/>
<rect x="240.80" y="416.20" width="8.60" height="10.30" fill="#686868"/>
<rect x="240.80" y="426.50" width="8.60" height="49.20" fill="#dedede"/>
<rect x="241.30" y="416.70" width="7.60" height="58.50" fill="none" stroke="#1e1e1e" stroke-width="1.1"/>
<line x1="240.80" y1="426.50" x2="249.40" y2="426.50" stroke="#1e1e1e" stroke-width="0.9"/>
<line x1="245.10" y1="417.70" x2="245.10" y2="420.20" stroke="#111" stroke-width="0.8"/>
<line x1="243.80" y1="420.20" x2="246.40" y2="420.20" stroke="#111" stroke-width="0.9"/>
<line x1="245.10" y1="426.50" x2="245.10" y2="428.30" stroke="#111" stroke-width="0.8"/>
<line x1="243.60" y1="428.30" x2="246.60" y2="428.30" stroke="#111" stroke-width="1.0"/>
<rect x="256.50" y="451.50" width="8.60" height="1.20" fill="#686868"/>
<rect x="256.50" y="452.70" width="8.60" height="23.00" fill="#dedede"/>
<rect x="257.00" y="452.00" width="7.60" height="23.20" fill="none" stroke="#1e1e1e" stroke-width="1.1"/>
<line x1="256.50" y1="452.70" x2="265.10" y2="452.70" stroke="#1e1e1e" stroke-width="0.9"/>
<line x1="260.80" y1="453.00" x2="260.80" y2="455.50" stroke="#111" stroke-width="0.8"/>
<line x1="259.50" y1="455.50" x2="262.10" y2="455.50" stroke="#111" stroke-width="0.9"/>
<line x1="260.80" y1="452.70" x2="260.80" y2="454.50" stroke="#111" stroke-width="0.8"/>
<line x1="259.30" y1="454.50" x2="262.30" y2="454.50" stroke="#111" stroke-width="1.0"/>
<rect x="272.70" y="440.80" width="8.60" height="1.20" fill="#686868"/>
<rect x="272.70" y="442.00" width="8.60" height="33.70" fill="#dedede"/>
<rect x="273.20" y="441.30" width="7.60" height="33.90" fill="none" stroke="#1e1e1e" stroke-width="1.1"/>
<line x1="272.70" y1="442.00" x2="281.30" y2="442.00" stroke="#1e1e1e" stroke-width="0.9"/>
<line x1="277.00" y1="442.30" x2="277.00" y2="444.80" stroke="#111" stroke-width="0.8"/>
<line x1="275.70" y1="444.80" x2="278.30" y2="444.80" stroke="#111" stroke-width="0.9"/>
<line x1="277.00" y1="442.00" x2="277.00" y2="443.80" stroke="#111" stroke-width="0.8"/>
<line x1="275.50" y1="443.80" x2="278.50" y2="443.80" stroke="#111" stroke-width="1.0"/>
<rect x="288.20" y="465.30" width="8.60" height="7.40" fill="#686868"/>
<rect x="288.20" y="472.70" width="8.60" height="3.00" fill="#dedede"/>
<rect x="288.70" y="465.80" width="7.60" height="9.40" fill="none" stroke="#1e1e1e" stroke-width="1.1"/>
<line x1="288.20" y1="472.70" x2="296.80" y2="472.70" stroke="#1e1e1e" stroke-width="0.9"/>
<line x1="292.50" y1="466.80" x2="292.50" y2="469.30" stroke="#111" stroke-width="0.8"/>
<line x1="291.20" y1="469.30" x2="293.80" y2="469.30" stroke="#111" stroke-width="0.9"/>
<line x1="292.50" y1="472.70" x2="292.50" y2="474.50" stroke="#111" stroke-width="0.8"/>
<line x1="291.00" y1="474.50" x2="294.00" y2="474.50" stroke="#111" stroke-width="1.0"/>
<rect x="304.30" y="448.50" width="8.60" height="3.50" fill="#686868"/>
<rect x="304.30" y="452.00" width="8.60" height="23.70" fill="#dedede"/>
<rect x="304.80" y="449.00" width="7.60" height="26.20" fill="none" stroke="#1e1e1e" stroke-width="1.1"/>
<line x1="304.30" y1="452.00" x2="312.90" y2="452.00" stroke="#1e1e1e" stroke-width="0.9"/>
<line x1="308.60" y1="450.00" x2="308.60" y2="452.50" stroke="#111" stroke-width="0.8"/>
<line x1="307.30" y1="452.50" x2="309.90" y2="452.50" stroke="#111" stroke-width="0.9"/>
<line x1="308.60" y1="452.00" x2="308.60" y2="453.80" stroke="#111" stroke-width="0.8"/>
<line x1="307.10" y1="453.80" x2="310.10" y2="453.80" stroke="#111" stroke-width="1.0"/>
<line x1="260.80" y1="453.00" x2="260.80" y2="462.00" stroke="#222" stroke-width="0.9"/>
<line x1="259.55" y1="453.00" x2="262.05" y2="453.00" stroke="#222" stroke-width="0.9"/>
<line x1="259.50" y1="462.00" x2="262.10" y2="462.00" stroke="#222" stroke-width="0.9"/>
<line x1="277.00" y1="442.00" x2="277.00" y2="452.00" stroke="#222" stroke-width="0.9"/>
<line x1="275.75" y1="442.00" x2="278.25" y2="442.00" stroke="#222" stroke-width="0.9"/>
<line x1="275.70" y1="452.00" x2="278.30" y2="452.00" stroke="#222" stroke-width="0.9"/>
<text x="197.8" y="487.9" font-size="8.4" text-anchor="middle">KO</text>
<text x="213.9" y="487.9" font-size="8.4" text-anchor="middle">ctrl</text>
<text x="229.3" y="487.9" font-size="8.4" text-anchor="middle">KO</text>
<text x="245.10000000000002" y="487.9" font-size="8.4" text-anchor="middle">ctrl</text>
<text x="260.8" y="487.9" font-size="8.4" text-anchor="middle">KO</text>
<text x="277.0" y="487.9" font-size="8.4" text-anchor="middle">ctrl</text>
<text x="292.5" y="487.9" font-size="8.4" text-anchor="middle">KO</text>
<text x="308.6" y="487.9" font-size="8.4" text-anchor="middle">ctrl</text>
<text x="205.5" y="502.6" font-size="8.2" text-anchor="middle">T1</text>
<text x="237.3" y="502.6" font-size="8.2" text-anchor="middle">T2-FP</text>
<text x="268.8" y="502.6" font-size="8.2" text-anchor="middle">T2-MZ</text>
<text x="300.4" y="502.6" font-size="8.2" text-anchor="middle">MZ</text>
<text x="284.2" y="440.4" font-size="7.8"><tspan font-style="italic">P</tspan> = .0025</text>
<line x1="289.50" y1="444.50" x2="308.00" y2="444.50" stroke="#222" stroke-width="1"/>
<line x1="190.00" y1="478.00" x2="190.00" y2="506.00" stroke="#f1f1f1" stroke-width="0.8"/>
<line x1="221.50" y1="478.00" x2="221.50" y2="506.00" stroke="#f1f1f1" stroke-width="0.8"/>
<line x1="253.00" y1="478.00" x2="253.00" y2="506.00" stroke="#f1f1f1" stroke-width="0.8"/>
<line x1="284.50" y1="478.00" x2="284.50" y2="506.00" stroke="#f1f1f1" stroke-width="0.8"/>
<line x1="317.00" y1="478.00" x2="317.00" y2="506.00" stroke="#f1f1f1" stroke-width="0.8"/>
<text x="335.1" y="420.8" font-size="7.5" text-anchor="end">30%</text>
<text x="335.1" y="440.45" font-size="7.5" text-anchor="end">20%</text>
<text x="335.1" y="460.1" font-size="7.5" text-anchor="end">10%</text>
<text x="335.1" y="479.75" font-size="7.5" text-anchor="end">0%</text>
<rect x="340.30" y="423.00" width="8.50" height="10.50" fill="#686868"/>
<rect x="340.30" y="433.50" width="8.50" height="42.70" fill="#dedede"/>
<rect x="340.80" y="423.50" width="7.50" height="52.20" fill="none" stroke="#1e1e1e" stroke-width="1.1"/>
<line x1="340.30" y1="433.50" x2="348.80" y2="433.50" stroke="#1e1e1e" stroke-width="0.9"/>
<rect x="354.60" y="413.80" width="8.30" height="9.20" fill="#686868"/>
<rect x="354.60" y="423.00" width="8.30" height="53.20" fill="#dedede"/>
<rect x="355.10" y="414.30" width="7.30" height="61.40" fill="none" stroke="#1e1e1e" stroke-width="1.1"/>
<line x1="354.60" y1="423.00" x2="362.90" y2="423.00" stroke="#1e1e1e" stroke-width="0.9"/>
<text x="344.5" y="487.9" font-size="8.4" text-anchor="middle">KO</text>
<text x="358.6" y="487.9" font-size="8.4" text-anchor="middle">ctrl</text>
<text x="352.3" y="502.5" font-size="8.2" text-anchor="middle">FO</text>
<line x1="337.00" y1="478.00" x2="337.00" y2="506.00" stroke="#f1f1f1" stroke-width="0.8"/>
<line x1="367.00" y1="478.00" x2="367.00" y2="506.00" stroke="#f1f1f1" stroke-width="0.8"/>
<text x="401.6" y="399" font-size="9.65">PEC</text>
<text x="394.3" y="415.8" font-size="7.7"><tspan font-style="italic">P</tspan> = .0121</text>
<line x1="402.30" y1="420.20" x2="422.00" y2="420.20" stroke="#222" stroke-width="1"/>
<text x="396.1" y="425.2" font-size="7.5" text-anchor="end">20%</text>
<text x="396.1" y="452.3" font-size="7.5" text-anchor="end">10%</text>
<text x="396.1" y="479.4" font-size="7.5" text-anchor="end">0%</text>
<rect x="401.20" y="454.20" width="7.80" height="11.60" fill="#686868"/>
<rect x="401.20" y="465.80" width="7.80" height="9.40" fill="#dedede"/>
<rect x="401.70" y="454.70" width="6.80" height="20.00" fill="none" stroke="#1e1e1e" stroke-width="1.1"/>
<line x1="401.20" y1="465.80" x2="409.00" y2="465.80" stroke="#1e1e1e" stroke-width="0.9"/>
<line x1="405.10" y1="465.80" x2="405.10" y2="467.60" stroke="#111" stroke-width="0.8"/>
<line x1="403.60" y1="467.60" x2="406.60" y2="467.60" stroke="#111" stroke-width="1.0"/>
<rect x="416.10" y="424.00" width="8.10" height="10.00" fill="#686868"/>
<rect x="416.10" y="434.00" width="8.10" height="41.20" fill="#dedede"/>
<rect x="416.60" y="424.50" width="7.10" height="50.20" fill="none" stroke="#1e1e1e" stroke-width="1.1"/>
<line x1="416.10" y1="434.00" x2="424.20" y2="434.00" stroke="#1e1e1e" stroke-width="0.9"/>
<line x1="420.15" y1="434.00" x2="420.15" y2="435.80" stroke="#111" stroke-width="0.8"/>
<line x1="418.65" y1="435.80" x2="421.65" y2="435.80" stroke="#111" stroke-width="1.0"/>
<text x="405" y="487.6" font-size="8.4" text-anchor="middle">KO</text>
<text x="420.3" y="487.6" font-size="8.4" text-anchor="middle">ctrl</text>
<text x="411.8" y="501.5" font-size="8.2" text-anchor="middle">B1</text>
<line x1="398.00" y1="478.00" x2="398.00" y2="506.00" stroke="#f1f1f1" stroke-width="0.8"/>
<line x1="428.00" y1="478.00" x2="428.00" y2="506.00" stroke="#f1f1f1" stroke-width="0.8"/>
<rect x="441.50" y="410.50" width="5.00" height="5.70" fill="#dedede" stroke="#222" stroke-width="1.25"/>
<text x="450" y="416.2" font-size="8.0">YFP+ (deleted)</text>
<rect x="441.50" y="429.60" width="5.00" height="5.70" fill="#555" stroke="#222" stroke-width="1.25"/>
<text x="450" y="434.5" font-size="8.0">YFP- (undeleted)</text>
<text x="1.8" y="554.9" font-size="12.6" font-weight="bold" stroke="#1a1a1a" stroke-width="0.5">C</text>
<text x="73" y="555.5" font-size="11">Bone Marrow</text>
<rect x="51.00" y="570.80" width="4.20" height="4.20" fill="#111" stroke="#444" stroke-width="0.8"/>
<text x="57.3" y="575.5" font-size="9.1">Pre</text>
<rect x="78.80" y="570.80" width="4.20" height="4.20" fill="#666" stroke="#444" stroke-width="0.8"/>
<text x="84.8" y="575.5" font-size="9.1">Imm</text>
<rect x="109.00" y="570.80" width="4.20" height="4.20" fill="#c4c4c4" stroke="#444" stroke-width="0.8"/>
<text x="115.2" y="575.5" font-size="9.1">Mat</text>
<text x="52.6" y="590.9000000000001" font-size="7.5" text-anchor="end">30%</text>
<line x1="56.00" y1="588.20" x2="127.50" y2="588.20" stroke="#e9e9e9" stroke-width="0.8"/>
<text x="52.6" y="613.7700000000001" font-size="7.5" text-anchor="end">25%</text>
<line x1="56.00" y1="611.07" x2="127.50" y2="611.07" stroke="#e9e9e9" stroke-width="0.8"/>
<text x="52.6" y="636.6400000000001" font-size="7.5" text-anchor="end">20%</text>
<line x1="56.00" y1="633.94" x2="127.50" y2="633.94" stroke="#e9e9e9" stroke-width="0.8"/>
<text x="52.6" y="659.5100000000001" font-size="7.5" text-anchor="end">15%</text>
<line x1="56.00" y1="656.81" x2="127.50" y2="656.81" stroke="#e9e9e9" stroke-width="0.8"/>
<text x="52.6" y="682.3800000000001" font-size="7.5" text-anchor="end">10%</text>
<line x1="56.00" y1="679.68" x2="127.50" y2="679.68" stroke="#e9e9e9" stroke-width="0.8"/>
<text x="52.6" y="705.2500000000001" font-size="7.5" text-anchor="end">5%</text>
<line x1="56.00" y1="702.55" x2="127.50" y2="702.55" stroke="#e9e9e9" stroke-width="0.8"/>
<text x="52.6" y="728.1200000000001" font-size="7.5" text-anchor="end">0%</text>
<rect x="61.00" y="637.30" width="8.30" height="36.70" fill="#c4c4c4"/>
<rect x="61.00" y="674.00" width="8.30" height="8.40" fill="#5e5e5e"/>
<rect x="61.00" y="682.40" width="8.30" height="43.60" fill="#151515"/>
<rect x="61.40" y="637.70" width="7.50" height="87.90" fill="none" stroke="#777" stroke-width="0.8"/>
<rect x="78.70" y="646.40" width="8.30" height="43.40" fill="#c4c4c4"/>
<rect x="78.70" y="689.80" width="8.30" height="9.50" fill="#5e5e5e"/>
<rect x="78.70" y="699.30" width="8.30" height="26.70" fill="#151515"/>
<rect x="79.10" y="646.80" width="7.50" height="78.80" fill="none" stroke="#777" stroke-width="0.8"/>
<rect x="96.30" y="648.60" width="8.30" height="39.70" fill="#c4c4c4"/>
<rect x="96.30" y="688.30" width="8.30" height="6.80" fill="#5e5e5e"/>
<rect x="96.30" y="695.10" width="8.30" height="30.90" fill="#151515"/>
<rect x="96.70" y="649.00" width="7.50" height="76.60" fill="none" stroke="#777" stroke-width="0.8"/>
<rect x="114.30" y="660.20" width="8.30" height="35.80" fill="#c4c4c4"/>
<rect x="114.30" y="696.00" width="8.30" height="8.00" fill="#5e5e5e"/>
<rect x="114.30" y="704.00" width="8.30" height="22.00" fill="#151515"/>
<rect x="114.70" y="660.60" width="7.50" height="65.00" fill="none" stroke="#777" stroke-width="0.8"/>
<line x1="65.15" y1="638.30" x2="65.15" y2="646.00" stroke="#333" stroke-width="0.8"/>
<line x1="64.15" y1="638.30" x2="66.15" y2="638.30" stroke="#333" stroke-width="0.8"/>
<line x1="64.10" y1="646.00" x2="66.20" y2="646.00" stroke="#333" stroke-width="0.8"/>
<line x1="82.85" y1="647.40" x2="82.85" y2="656.00" stroke="#333" stroke-width="0.8"/>
<line x1="81.85" y1="647.40" x2="83.85" y2="647.40" stroke="#333" stroke-width="0.8"/>
<line x1="81.80" y1="656.00" x2="83.90" y2="656.00" stroke="#333" stroke-width="0.8"/>
<line x1="100.45" y1="649.60" x2="100.45" y2="652.00" stroke="#333" stroke-width="0.8"/>
<line x1="99.45" y1="649.60" x2="101.45" y2="649.60" stroke="#333" stroke-width="0.8"/>
<line x1="99.40" y1="652.00" x2="101.50" y2="652.00" stroke="#333" stroke-width="0.8"/>
<line x1="118.45" y1="661.20" x2="118.45" y2="672.40" stroke="#333" stroke-width="0.8"/>
<line x1="117.45" y1="661.20" x2="119.45" y2="661.20" stroke="#333" stroke-width="0.8"/>
<line x1="117.40" y1="672.40" x2="119.50" y2="672.40" stroke="#333" stroke-width="0.8"/>
<text x="54.6" y="622.9" font-size="8.0"><tspan font-size="7">Pre</tspan><tspan font-style="italic" dx="1.2">P</tspan> = .0379</text>
<line x1="64.50" y1="628.90" x2="83.60" y2="628.90" stroke="#222" stroke-width="1.3"/>
<text transform="translate(21.4,657) rotate(-90)" font-size="8.8" text-anchor="middle">Percentage of total cells</text>
<text transform="translate(68.604,731.4) rotate(-90)" font-size="8.9" text-anchor="end">KO 50/50</text>
<text transform="translate(86.704,731.4) rotate(-90)" font-size="8.9" text-anchor="end">ctrl 50/50</text>
<text transform="translate(104.204,731.4) rotate(-90)" font-size="8.9" text-anchor="end">KO 100</text>
<text transform="translate(121.80399999999999,731.4) rotate(-90)" font-size="8.9" text-anchor="end">ctrl 100</text>
<line x1="56.60" y1="726.30" x2="56.60" y2="782.80" stroke="#bdbdbd" stroke-width="0.8"/>
<line x1="126.80" y1="726.30" x2="126.80" y2="782.80" stroke="#d0d0d0" stroke-width="0.8"/>
<line x1="56.60" y1="726.30" x2="126.80" y2="726.30" stroke="#bdbdbd" stroke-width="0.9"/>
<text x="92.4" y="781.3" font-size="7.8" text-anchor="middle">CD45.2+ deleted</text>
<text x="160" y="583.8" font-size="6.9" text-anchor="middle">CD45.2+</text>
<text x="160" y="591.5" font-size="6.9" text-anchor="middle">deleted</text>
<text x="143.9" y="599.1" font-size="6" text-anchor="end">4</text>
<text x="143.9" y="617.9" font-size="6" text-anchor="end">2</text>
<text x="143.9" y="636.7" font-size="6" text-anchor="end">0</text>
<line x1="146.00" y1="597.00" x2="173.00" y2="597.00" stroke="#e9e9e9" stroke-width="0.7"/>
<line x1="146.00" y1="606.40" x2="173.00" y2="606.40" stroke="#e9e9e9" stroke-width="0.7"/>
<line x1="146.00" y1="615.80" x2="173.00" y2="615.80" stroke="#e9e9e9" stroke-width="0.7"/>
<line x1="146.00" y1="625.20" x2="173.00" y2="625.20" stroke="#e9e9e9" stroke-width="0.7"/>
<line x1="146.00" y1="634.80" x2="173.00" y2="634.80" stroke="#bbb" stroke-width="0.8"/>
<rect x="149.20" y="603.00" width="7.40" height="32.20" fill="#d4d4d4"/>
<rect x="149.60" y="603.40" width="6.60" height="31.40" fill="none" stroke="#666" stroke-width="0.8"/>
<rect x="162.80" y="618.20" width="7.20" height="17.00" fill="#d4d4d4"/>
<rect x="163.20" y="618.60" width="6.40" height="16.20" fill="none" stroke="#666" stroke-width="0.8"/>
<line x1="152.90" y1="604.00" x2="152.90" y2="620.00" stroke="#666" stroke-width="0.7"/>
<line x1="166.40" y1="619.00" x2="166.40" y2="630.00" stroke="#666" stroke-width="0.7"/>
<text x="153" y="644.3" font-size="8" text-anchor="middle">KO</text>
<text x="166.2" y="644.3" font-size="8" text-anchor="middle">ctrl</text>
<text transform="translate(137,616.4) rotate(-90)" font-size="6.7" text-anchor="middle">B cell number (x10^6)</text>
<text x="254.8" y="555.2" font-size="10.8">Spleen</text>
<rect x="195.40" y="569.40" width="4.20" height="4.20" fill="#111" stroke="#444" stroke-width="0.8"/>
<text x="202.6" y="574.4" font-size="9">T1</text>
<rect x="218.60" y="569.40" width="4.20" height="4.20" fill="#111" stroke="#444" stroke-width="0.8"/>
<text x="224.6" y="574.4" font-size="9">T2-FP</text>
<rect x="252.70" y="569.40" width="4.20" height="4.20" fill="#666" stroke="#444" stroke-width="0.8"/>
<text x="260.2" y="574.4" font-size="8.9">T2-MZP</text>
<rect x="216.70" y="580.60" width="4.20" height="4.20" fill="#ffffff" stroke="#666" stroke-width="0.8"/>
<text x="221.8" y="585.6" font-size="9.1">FO</text>
<rect x="252.70" y="580.60" width="4.20" height="4.20" fill="#b8b8b8" stroke="#666" stroke-width="0.8"/>
<text x="258.2" y="585.6" font-size="9.1">MZ</text>
<text x="209.7" y="592.7" font-size="7.5" text-anchor="end">30%</text>
<line x1="213.40" y1="590.00" x2="290.00" y2="590.00" stroke="#e9e9e9" stroke-width="0.8"/>
<text x="209.7" y="615.6500000000001" font-size="7.5" text-anchor="end">25%</text>
<line x1="213.40" y1="612.95" x2="290.00" y2="612.95" stroke="#e9e9e9" stroke-width="0.8"/>
<text x="209.7" y="638.6" font-size="7.5" text-anchor="end">20%</text>
<line x1="213.40" y1="635.90" x2="290.00" y2="635.90" stroke="#e9e9e9" stroke-width="0.8"/>
<text x="209.7" y="661.5500000000001" font-size="7.5" text-anchor="end">15%</text>
<line x1="213.40" y1="658.85" x2="290.00" y2="658.85" stroke="#e9e9e9" stroke-width="0.8"/>
<text x="209.7" y="684.5" font-size="7.5" text-anchor="end">10%</text>
<line x1="213.40" y1="681.80" x2="290.00" y2="681.80" stroke="#e9e9e9" stroke-width="0.8"/>
<text x="209.7" y="707.45" font-size="7.5" text-anchor="end">5%</text>
<line x1="213.40" y1="704.75" x2="290.00" y2="704.75" stroke="#e9e9e9" stroke-width="0.8"/>
<text x="209.7" y="730.4000000000001" font-size="7.5" text-anchor="end">0%</text>
<rect x="218.50" y="659.60" width="8.70" height="47.60" fill="#f6f6f6"/>
<rect x="218.50" y="707.20" width="8.70" height="1.50" fill="#9a9a9a"/>
<rect x="218.50" y="708.70" width="8.70" height="1.50" fill="#555"/>
<rect x="218.50" y="710.20" width="8.70" height="0.20" fill="#3a3a3a"/>
<rect x="218.50" y="710.40" width="8.70" height="16.20" fill="#141414"/>
<rect x="218.90" y="660.00" width="7.90" height="66.20" fill="none" stroke="#777" stroke-width="0.8"/>
<rect x="237.50" y="620.00" width="8.70" height="78.10" fill="#f6f6f6"/>
<rect x="237.50" y="698.10" width="8.70" height="1.50" fill="#9a9a9a"/>
<rect x="237.50" y="699.60" width="8.70" height="1.50" fill="#555"/>
<rect x="237.50" y="701.10" width="8.70" height="3.90" fill="#3a3a3a"/>
<rect x="237.50" y="705.00" width="8.70" height="21.60" fill="#141414"/>
<rect x="237.90" y="620.40" width="7.90" height="105.80" fill="none" stroke="#777" stroke-width="0.8"/>
<rect x="257.20" y="626.30" width="8.70" height="73.50" fill="#f6f6f6"/>
<rect x="257.20" y="699.80" width="8.70" height="1.50" fill="#9a9a9a"/>
<rect x="257.20" y="701.30" width="8.70" height="1.50" fill="#555"/>
<rect x="257.20" y="702.80" width="8.70" height="1.20" fill="#3a3a3a"/>
<rect x="257.20" y="704.00" width="8.70" height="22.60" fill="#141414"/>
<rect x="257.60" y="626.70" width="7.90" height="99.50" fill="none" stroke="#777" stroke-width="0.8"/>
<rect x="276.30" y="608.10" width="8.70" height="87.10" fill="#f6f6f6"/>
<rect x="276.30" y="695.20" width="8.70" height="1.50" fill="#9a9a9a"/>
<rect x="276.30" y="696.70" width="8.70" height="1.50" fill="#555"/>
<rect x="276.30" y="698.20" width="8.70" height="3.80" fill="#3a3a3a"/>
<rect x="276.30" y="702.00" width="8.70" height="24.60" fill="#141414"/>
<rect x="276.70" y="608.50" width="7.90" height="117.70" fill="none" stroke="#777" stroke-width="0.8"/>
<line x1="222.85" y1="660.50" x2="222.85" y2="674.40" stroke="#444" stroke-width="0.7"/>
<line x1="221.85" y1="660.50" x2="223.85" y2="660.50" stroke="#444" stroke-width="0.7"/>
<line x1="221.80" y1="674.40" x2="223.90" y2="674.40" stroke="#444" stroke-width="0.7"/>
<line x1="241.85" y1="621.00" x2="241.85" y2="633.00" stroke="#444" stroke-width="0.7"/>
<line x1="240.85" y1="621.00" x2="242.85" y2="621.00" stroke="#444" stroke-width="0.7"/>
<line x1="240.80" y1="633.00" x2="242.90" y2="633.00" stroke="#444" stroke-width="0.7"/>
<line x1="261.55" y1="627.00" x2="261.55" y2="661.70" stroke="#444" stroke-width="0.7"/>
<line x1="260.55" y1="627.00" x2="262.55" y2="627.00" stroke="#444" stroke-width="0.7"/>
<line x1="260.50" y1="661.70" x2="262.60" y2="661.70" stroke="#444" stroke-width="0.7"/>
<line x1="280.65" y1="609.00" x2="280.65" y2="627.00" stroke="#444" stroke-width="0.7"/>
<line x1="279.65" y1="609.00" x2="281.65" y2="609.00" stroke="#444" stroke-width="0.7"/>
<line x1="279.60" y1="627.00" x2="281.70" y2="627.00" stroke="#444" stroke-width="0.7"/>
<text transform="translate(226.078,733.3) rotate(-90)" font-size="8.55" text-anchor="end">KO 50/50</text>
<text transform="translate(246.37800000000001,733.3) rotate(-90)" font-size="8.55" text-anchor="end">ctrl 50/50</text>
<text transform="translate(265.578,733.3) rotate(-90)" font-size="8.55" text-anchor="end">KO 100</text>
<text transform="translate(284.77799999999996,733.3) rotate(-90)" font-size="8.55" text-anchor="end">ctrl 100</text>
<line x1="213.70" y1="726.90" x2="213.70" y2="782.80" stroke="#bdbdbd" stroke-width="0.8"/>
<line x1="290.40" y1="726.90" x2="290.40" y2="782.80" stroke="#d0d0d0" stroke-width="0.8"/>
<line x1="213.70" y1="726.90" x2="290.40" y2="726.90" stroke="#bdbdbd" stroke-width="0.9"/>
<text x="251.9" y="780.8" font-size="7.8" text-anchor="middle">CD45.2+ deleted</text>
<text x="321.8" y="583.5" font-size="6.9" text-anchor="middle">CD45.2+</text>
<text x="321.8" y="591.1" font-size="6.9" text-anchor="middle">deleted</text>
<text x="305.7" y="598.9" font-size="6" text-anchor="end">4</text>
<text x="305.7" y="616.5" font-size="6" text-anchor="end">2</text>
<text x="305.7" y="634.1" font-size="6" text-anchor="end">0</text>
<line x1="308.00" y1="596.80" x2="336.00" y2="596.80" stroke="#e9e9e9" stroke-width="0.7"/>
<line x1="308.00" y1="605.60" x2="336.00" y2="605.60" stroke="#e9e9e9" stroke-width="0.7"/>
<line x1="308.00" y1="614.40" x2="336.00" y2="614.40" stroke="#e9e9e9" stroke-width="0.7"/>
<line x1="308.00" y1="623.20" x2="336.00" y2="623.20" stroke="#e9e9e9" stroke-width="0.7"/>
<line x1="308.00" y1="632.40" x2="336.00" y2="632.40" stroke="#bbb" stroke-width="0.8"/>
<rect x="310.80" y="613.30" width="8.20" height="19.50" fill="#d4d4d4"/>
<rect x="311.20" y="613.70" width="7.40" height="18.70" fill="none" stroke="#666" stroke-width="0.8"/>
<rect x="325.90" y="598.60" width="7.70" height="34.20" fill="#d4d4d4"/>
<rect x="326.30" y="599.00" width="6.90" height="33.40" fill="none" stroke="#666" stroke-width="0.8"/>
<line x1="314.90" y1="614.00" x2="314.90" y2="628.00" stroke="#666" stroke-width="0.7"/>
<line x1="329.70" y1="599.50" x2="329.70" y2="606.00" stroke="#666" stroke-width="0.7"/>
<text x="314.6" y="641.3" font-size="8" text-anchor="middle">KO</text>
<text x="330.2" y="641.3" font-size="8" text-anchor="middle">ctrl</text>
<text transform="translate(299.6,616.3) rotate(-90)" font-size="6.7" text-anchor="middle">B cell number (x10^7)</text>
<text x="295.4" y="670.2" font-size="8.0"><tspan font-size="7">T2-FP </tspan><tspan font-style="italic">P</tspan> = .0148</text>
<text x="295.4" y="682.3" font-size="8.0"><tspan font-size="7">T2-MZP </tspan><tspan font-style="italic">P</tspan> = .0207</text>
<text x="295.4" y="694" font-size="8.0"><tspan font-size="7">MZ </tspan><tspan font-style="italic" dx="1.2">P</tspan> = .0019</text>
<text x="295.4" y="706" font-size="8.0"><tspan font-size="7">FO </tspan><tspan font-style="italic" dx="1.8">P</tspan> = .0006</text>
<text x="427" y="555.4" font-size="10.7">PEC</text>
<rect x="393.90" y="570.40" width="4.20" height="4.20" fill="#f2f2f2" stroke="#777" stroke-width="0.8"/>
<text x="401.8" y="574.6" font-size="8.1">B1a</text>
<rect x="429.30" y="570.40" width="4.20" height="4.20" fill="#555" stroke="#555" stroke-width="0.8"/>
<text x="437.2" y="574.6" font-size="8.1">B1b</text>
<text x="381.1" y="588.8000000000001" font-size="7.5" text-anchor="end">2,0%</text>
<line x1="384.20" y1="586.10" x2="460.00" y2="586.10" stroke="#e9e9e9" stroke-width="0.8"/>
<text x="381.1" y="624.0000000000001" font-size="7.5" text-anchor="end">1,5%</text>
<line x1="384.20" y1="621.30" x2="460.00" y2="621.30" stroke="#e9e9e9" stroke-width="0.8"/>
<text x="381.1" y="659.2" font-size="7.5" text-anchor="end">1,0%</text>
<line x1="384.20" y1="656.50" x2="460.00" y2="656.50" stroke="#e9e9e9" stroke-width="0.8"/>
<text x="381.1" y="694.4000000000001" font-size="7.5" text-anchor="end">0,5%</text>
<line x1="384.20" y1="691.70" x2="460.00" y2="691.70" stroke="#e9e9e9" stroke-width="0.8"/>
<text x="381.1" y="729.6000000000001" font-size="7.5" text-anchor="end">0,0%</text>
<rect x="389.60" y="711.00" width="8.40" height="13.70" fill="#5a5a5a"/>
<rect x="389.60" y="724.70" width="8.40" height="2.10" fill="#e6e6e6"/>
<rect x="390.00" y="711.40" width="7.60" height="15.00" fill="none" stroke="#555" stroke-width="0.8"/>
<rect x="409.10" y="656.00" width="8.40" height="57.10" fill="#5a5a5a"/>
<rect x="409.10" y="713.10" width="8.40" height="13.70" fill="#e6e6e6"/>
<rect x="409.50" y="656.40" width="7.60" height="70.00" fill="none" stroke="#555" stroke-width="0.8"/>
<rect x="428.10" y="674.00" width="8.40" height="46.50" fill="#5a5a5a"/>
<rect x="428.10" y="720.50" width="8.40" height="6.30" fill="#e6e6e6"/>
<rect x="428.50" y="674.40" width="7.60" height="52.00" fill="none" stroke="#555" stroke-width="0.8"/>
<rect x="447.20" y="616.20" width="8.40" height="92.20" fill="#5a5a5a"/>
<rect x="447.20" y="708.40" width="8.40" height="18.40" fill="#e6e6e6"/>
<rect x="447.60" y="616.60" width="7.60" height="109.80" fill="none" stroke="#555" stroke-width="0.8"/>
<line x1="393.80" y1="712.00" x2="393.80" y2="716.00" stroke="#222" stroke-width="0.7"/>
<line x1="392.80" y1="712.00" x2="394.80" y2="712.00" stroke="#222" stroke-width="0.7"/>
<line x1="392.80" y1="716.00" x2="394.80" y2="716.00" stroke="#222" stroke-width="0.7"/>
<line x1="413.30" y1="657.00" x2="413.30" y2="701.40" stroke="#222" stroke-width="0.7"/>
<line x1="412.30" y1="657.00" x2="414.30" y2="657.00" stroke="#222" stroke-width="0.7"/>
<line x1="412.30" y1="701.40" x2="414.30" y2="701.40" stroke="#222" stroke-width="0.7"/>
<line x1="432.30" y1="675.00" x2="432.30" y2="701.40" stroke="#222" stroke-width="0.7"/>
<line x1="431.30" y1="675.00" x2="433.30" y2="675.00" stroke="#222" stroke-width="0.7"/>
<line x1="431.30" y1="701.40" x2="433.30" y2="701.40" stroke="#222" stroke-width="0.7"/>
<line x1="451.40" y1="617.00" x2="451.40" y2="693.00" stroke="#222" stroke-width="0.7"/>
<line x1="450.40" y1="617.00" x2="452.40" y2="617.00" stroke="#222" stroke-width="0.7"/>
<line x1="450.40" y1="693.00" x2="452.40" y2="693.00" stroke="#222" stroke-width="0.7"/>
<line x1="413.30" y1="714.00" x2="413.30" y2="724.00" stroke="#666" stroke-width="0.6"/>
<line x1="432.30" y1="721.00" x2="432.30" y2="725.00" stroke="#666" stroke-width="0.6"/>
<line x1="451.40" y1="709.00" x2="451.40" y2="724.00" stroke="#666" stroke-width="0.6"/>
<text transform="translate(397.678,734) rotate(-90)" font-size="8.55" text-anchor="end">KO 50/50</text>
<text transform="translate(416.878,734) rotate(-90)" font-size="8.55" text-anchor="end">ctrl 50/50</text>
<text transform="translate(435.578,734) rotate(-90)" font-size="8.55" text-anchor="end">KO 100</text>
<text transform="translate(454.77799999999996,734) rotate(-90)" font-size="8.55" text-anchor="end">ctrl 100</text>
<line x1="384.50" y1="727.20" x2="384.50" y2="783.40" stroke="#bdbdbd" stroke-width="0.8"/>
<line x1="461.50" y1="727.20" x2="461.50" y2="783.40" stroke="#d0d0d0" stroke-width="0.8"/>
<line x1="384.50" y1="727.20" x2="461.50" y2="727.20" stroke="#bdbdbd" stroke-width="0.9"/>
<text x="422.2" y="781.7" font-size="7.8" text-anchor="middle">CD45.2+ deleted</text>
<text x="495" y="583.5" font-size="6.9" text-anchor="middle">CD45.2+</text>
<text x="495" y="591.5" font-size="6.9" text-anchor="middle">deleted</text>
<text x="477.4" y="603.7" font-size="6" text-anchor="end">12</text>
<line x1="480.00" y1="601.60" x2="509.50" y2="601.60" stroke="#e9e9e9" stroke-width="0.7"/>
<text x="477.4" y="614.7" font-size="6" text-anchor="end">8</text>
<line x1="480.00" y1="612.60" x2="509.50" y2="612.60" stroke="#e9e9e9" stroke-width="0.7"/>
<text x="477.4" y="625.7" font-size="6" text-anchor="end">4</text>
<line x1="480.00" y1="623.60" x2="509.50" y2="623.60" stroke="#e9e9e9" stroke-width="0.7"/>
<text x="477.4" y="636.7" font-size="6" text-anchor="end">0</text>
<line x1="480.00" y1="634.60" x2="509.50" y2="634.60" stroke="#e9e9e9" stroke-width="0.7"/>
<line x1="480.00" y1="634.60" x2="509.50" y2="634.60" stroke="#bbb" stroke-width="0.8"/>
<rect x="483.40" y="610.10" width="8.10" height="24.90" fill="#d4d4d4"/>
<rect x="483.80" y="610.50" width="7.30" height="24.10" fill="none" stroke="#666" stroke-width="0.8"/>
<rect x="498.50" y="602.00" width="8.00" height="33.00" fill="#d4d4d4"/>
<rect x="498.90" y="602.40" width="7.20" height="32.20" fill="none" stroke="#666" stroke-width="0.8"/>
<line x1="487.40" y1="611.00" x2="487.40" y2="630.00" stroke="#555" stroke-width="0.7"/>
<line x1="502.50" y1="603.00" x2="502.50" y2="624.00" stroke="#555" stroke-width="0.7"/>
<text x="487.4" y="643" font-size="8" text-anchor="middle">KO</text>
<text x="503.1" y="643" font-size="8" text-anchor="middle">ctrl</text>
<text transform="translate(469.6,616) rotate(-90)" font-size="6.7" text-anchor="middle">B cell number (x10^4)</text>
<text x="469.9" y="675.9" font-size="7.8"><tspan font-size="6.8">B1a </tspan><tspan font-style="italic">P</tspan> = .0012</text>
<text x="469.9" y="687.2" font-size="7.8"><tspan font-size="6.8">B1b </tspan><tspan font-style="italic">P</tspan> = .0037</text>
</svg>
</body></html>
